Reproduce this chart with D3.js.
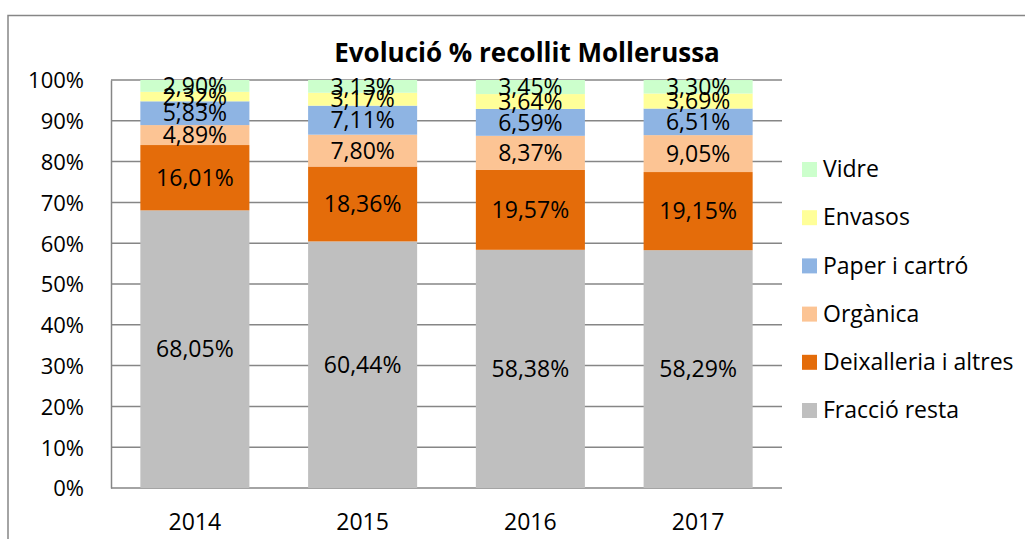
<!DOCTYPE html>
<html>
<head>
<meta charset="utf-8">
<script src="https://cdn.jsdelivr.net/npm/d3@7"></script>
<style>
  body { margin: 0; background: #fff; }
  text { font-family: "Open Sans", Lato, sans-serif; fill: #000; }
</style>
</head>
<body>
<svg width="1025" height="539"></svg>
<script>
const svg = d3.select('svg')

const years = ['2014', '2015', '2016', '2017']
const series = ['Fracció resta', 'Deixalleria i altres', 'Orgànica', 'Paper i cartró', 'Envasos', 'Vidre']
const fraccio = [68.05, 60.44, 58.38, 58.29]
const deixalleria = [16.01, 18.36, 19.57, 19.15]
const organica = [4.89, 7.80, 8.37, 9.05]
const paper = [5.83, 7.11, 6.59, 6.51]
const envasos = [2.32, 3.17, 3.64, 3.69]
const vidre = [2.90, 3.13, 3.45, 3.30]
const yTicks = [0, 10, 20, 30, 40, 50, 60, 70, 80, 90, 100]

const colors = ['#bfbfbf', '#e46c0a', '#fcc494', '#8eb4e3', '#ffff99', '#ccffcc']
const seriesValues = [fraccio, deixalleria, organica, paper, envasos, vidre]

const rows = years.map((yr, i) => {
    const r = { year: yr }
    series.forEach((s, k) => { r[s] = seriesValues[k][i] })
    return r
})

const stacked = d3.stack().keys(series)(rows)

const plotLeft = 111, plotRight = 782, plotTop = 80, plotBottom = 488

const x = d3.scaleBand()
    .domain(years)
    .range([plotLeft, plotRight])
    .paddingInner(0.35)
    .paddingOuter(0.175)

const y = d3.scaleLinear()
    .domain([0, 100])
    .range([plotBottom, plotTop])

const gray = '#868686'

// outer border
svg.append('rect')
    .attr('x', 8).attr('y', 15.5)
    .attr('width', 1030).attr('height', 600)
    .attr('fill', 'none')
    .attr('stroke', gray)
    .attr('stroke-width', 1.5)

// title
svg.append('text')
    .attr('x', 527).attr('y', 62)
    .attr('text-anchor', 'middle')
    .style('font-size', '26px')
    .style('font-weight', 'bold')
    .text('Evolució % recollit Mollerussa')

// gridlines
svg.append('g')
    .selectAll('line')
    .data(yTicks)
    .join('line')
        .attr('x1', plotLeft)
        .attr('x2', plotRight)
        .attr('y1', d => y(d))
        .attr('y2', d => y(d))
        .attr('stroke', gray)
        .attr('stroke-width', 1.5)

// y axis
const yAxis = svg.append('g')
    .attr('transform', `translate(${plotLeft},0)`)
    .call(d3.axisLeft(y).tickValues(yTicks).tickFormat(d => d + '%').tickSize(0))
yAxis.select('.domain').attr('stroke', gray).attr('stroke-width', 1.5)
yAxis.selectAll('.tick text')
    .style('font-size', '22px')
    .style('font-family', '"Open Sans", sans-serif')
    .attr('x', -27)
    .attr('dy', '0.36em')

// bars
const layers = svg.append('g')
    .selectAll('g')
    .data(stacked)
    .join('g')
        .attr('fill', (d, i) => colors[i])

layers.selectAll('rect')
    .data(d => d)
    .join('rect')
        .attr('x', d => x(d.data.year))
        .attr('width', x.bandwidth())
        .attr('y', d => y(d[1]))
        .attr('height', d => y(d[0]) - y(d[1]))

// bar labels
stacked.forEach(layer => {
    svg.append('g')
        .selectAll('text')
        .data(layer)
        .join('text')
            .attr('x', d => x(d.data.year) + x.bandwidth() / 2)
            .attr('y', d => (y(d[0]) + y(d[1])) / 2)
            .attr('dy', '0.36em')
            .attr('text-anchor', 'middle')
            .style('font-size', '23px')
            .text(d => (d[1] - d[0]).toFixed(2).replace('.', ',') + '%')
})

// x axis labels
svg.append('g')
    .selectAll('text')
    .data(years)
    .join('text')
        .attr('x', d => x(d) + x.bandwidth() / 2)
        .attr('y', 530)
        .attr('text-anchor', 'middle')
        .style('font-size', '23px')
        .text(d => d)

// legend
const legendItems = series.slice().reverse()
const legend = svg.append('g')
    .attr('transform', 'translate(802, 169)')
const items = legend.selectAll('g')
    .data(legendItems)
    .join('g')
        .attr('transform', (d, i) => `translate(0, ${i * 48.2})`)
items.append('rect')
    .attr('x', 0).attr('y', -7)
    .attr('width', 15).attr('height', 15)
    .attr('fill', d => colors[series.indexOf(d)])
items.append('text')
    .attr('x', 21)
    .attr('dy', '0.36em')
    .style('font-size', '23px')
    .text(d => d)
</script>
</body>
</html>
